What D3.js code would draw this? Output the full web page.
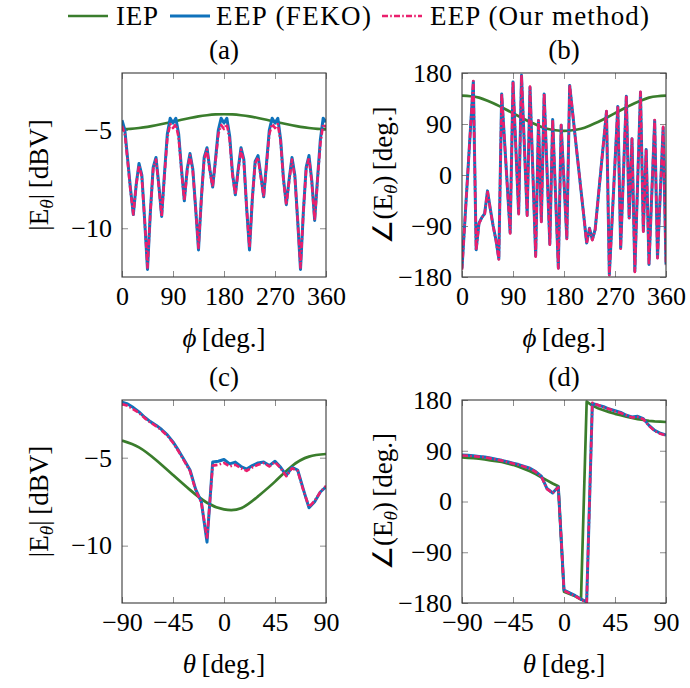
<!DOCTYPE html>
<html><head><meta charset="utf-8">
<script src="https://cdn.jsdelivr.net/npm/d3@7/dist/d3.min.js"></script>
<style>
body{margin:0;background:#fff}
text{font-family:"Liberation Serif","Times New Roman",serif;fill:#000}
</style>
</head><body>
<svg id="chart" width="690" height="688"></svg>
<script>
// ---------------- data ----------------
const phi5 = [0,5,10,15,20,25,30,35,40,45,50,55,60,65,70,75,80,85,90,95,100,105,110,115,120,125,130,135,140,145,150,155,160,165,170,175,180,185,190,195,200,205,210,215,220,225,230,235,240,245,250,255,260,265,270,275,280,285,290,295,300,305,310,315,320,325,330,335,340,345,350,355,360];
const phi15 = [0,15,30,45,60,75,90,105,120,135,150,165,180,195,210,225,240,255,270,285,300,315,330,345,360];
const theta5 = [-90,-85,-80,-75,-70,-65,-60,-55,-50,-45,-40,-35,-30,-25,-20,-15,-10,-5,0,5,10,15,20,25,30,35,40,45,50,55,60,65,70,75,80,85,90];
const theta15 = [-90,-75,-60,-45,-30,-15,0,15,30,45,60,75,90];

// (a) |E_theta| vs phi
const aIEP = [-4.95,-4.94,-4.90,-4.84,-4.76,-4.67,-4.58,-4.48,-4.39,-4.31,-4.25,-4.21,-4.20,-4.21,-4.25,-4.31,-4.39,-4.48,-4.58,-4.67,-4.76,-4.84,-4.90,-4.94,-4.95];
const aFEKO = [-4.5,-5.0,-6.5,-8.0,-9.3,-7.8,-6.7,-7.3,-9.6,-12.1,-9.2,-6.9,-6.4,-7.8,-9.4,-7.2,-5.2,-4.4,-4.65,-4.4,-5.2,-7.0,-8.6,-7.0,-6.2,-7.0,-9.0,-11.1,-8.5,-6.4,-5.9,-7.0,-7.9,-6.5,-5.0,-4.4,-4.65,-4.4,-5.3,-7.2,-8.3,-7.0,-5.9,-6.5,-9.0,-11.1,-8.5,-6.6,-6.3,-7.3,-8.4,-6.7,-5.0,-4.4,-4.65,-4.4,-5.5,-7.5,-8.8,-7.5,-6.4,-7.3,-9.6,-12.1,-9.2,-6.9,-6.3,-7.6,-9.6,-7.5,-5.5,-4.4,-4.6];
const aOur = [-4.8,-5.2,-6.6,-8.1,-9.3,-7.8,-6.8,-7.4,-9.6,-12.0,-9.2,-7.0,-6.5,-7.9,-9.4,-7.3,-5.4,-4.7,-4.9,-4.7,-5.4,-7.1,-8.6,-7.1,-6.3,-7.1,-9.0,-11.0,-8.5,-6.5,-6.0,-7.1,-7.9,-6.6,-5.2,-4.75,-4.95,-4.7,-5.5,-7.3,-8.3,-7.1,-6.0,-6.6,-9.0,-11.0,-8.5,-6.7,-6.4,-7.4,-8.4,-6.8,-5.2,-4.7,-4.9,-4.7,-5.6,-7.6,-8.8,-7.6,-6.5,-7.4,-9.6,-12.0,-9.2,-7.0,-6.4,-7.7,-9.6,-7.6,-5.7,-4.7,-4.85];

// (b) angle(E_theta) vs phi
const bIEP = [140,139,136.5,131,124.5,117,109,101,93.5,87,81.5,79,78,79,81.5,87,93.5,101,109,117,124.5,131,136.5,139,140];
const bFEKO = [-165,-82,0,83,165,-132,-85,-75,-68,-28,-60,-90,-115,-148,143,61,-20,-102,164,48,-68,176,53,-71,155,6,-143,96,-82,143,10,-122,98,-33,-164,88,-12,-112,158,112,65,19,-27,-73,-120,-94,-114,-96,-44,8,60,112,-176,-77,22,121,-129,5,139,-76,64,-170,-12,146,-99,45,-158,-31,96,-146,-30,84,-158];
const bOur = [-167,-83,0,83,166,-133,-86,-75,-69,-28,-61,-91,-116,-149,144,61,-21,-103,165,48,-69,177,53,-72,156,6,-144,96,-83,144,10,-123,98,-33,-165,88,-12,-113,159,112,65,19,-27,-73,-121,-95,-115,-97,-44,8,60,113,-177,-77,22,122,-130,5,140,-76,64,-171,-12,147,-100,45,-159,-31,97,-147,-30,85,-159];

// (c) |E_theta| vs theta
const cIEP = [-4.03,-4.41,-5.13,-5.98,-6.83,-7.56,-7.94,-7.88,-7.2,-6.36,-5.47,-4.94,-4.79];
const cFEKO = [-1.85,-1.95,-2.15,-2.4,-2.7,-2.95,-3.15,-3.4,-3.7,-4.1,-4.6,-5.15,-5.7,-6.8,-7.5,-9.8,-5.25,-5.2,-5.1,-5.35,-5.25,-5.5,-5.65,-5.45,-5.3,-5.25,-5.45,-5.2,-5.55,-6.0,-5.55,-5.7,-6.8,-7.85,-7.5,-6.95,-6.65];
const cOur = [-1.95,-2.05,-2.25,-2.45,-2.75,-3.0,-3.2,-3.45,-3.75,-4.15,-4.65,-5.2,-5.75,-6.85,-7.55,-9.6,-5.45,-5.4,-5.3,-5.5,-5.4,-5.6,-5.75,-5.55,-5.4,-5.3,-5.5,-5.25,-5.6,-6.05,-5.6,-5.75,-6.85,-7.8,-7.45,-6.95,-6.6];

// (d) angle(E_theta) vs theta
const dIEP = [78,77.5,77,76,74.5,73,71.5,70,67.5,65,61.5,57.5,53.5,48.5,43,37.5,32,27,-160,-164,-168,-174,177,170,165.5,162,158.5,155.5,153,150.5,148,146,144.5,143,142,141.5,141];
const dFEKO = [82.5,82,81,80,79,77,75,73,70.5,68,65.5,62,59,53,45,23,15,26,-157,-162,-167,-173,-178,174,171,168,164,161,158,153,150,151,147,135,126,121,118];
const dOur = [81.5,81,80.5,79.5,78.5,76.5,74.5,72.5,70,67.5,65,61.5,58.5,52.5,44.5,22,15,25,-158,-163,-168,-174,-179,175,171,167,164,160,157,153,149,150,146,134,125,120,117];

const xTicksPhi = [0,90,180,270,360];
const xTicksTheta = [-90,-45,0,45,90];
const yTicksMag = [-10,-5];
const yTicksPhase = [-180,-90,0,90,180];
const legendLabels = ["IEP","EEP (FEKO)","EEP (Our method)"];
const titles = ["(a)","(b)","(c)","(d)"];

// ---------------- style ----------------
const C_IEP = "#3a7d2c", C_FEKO = "#0f72bb", C_OUR = "#ea1f6d";
const TICKFS = 26, LABFS = 27;
const FONT = "'Liberation Serif','Times New Roman',serif";
const svg = d3.select("#chart");
const fmt = v => v < 0 ? "\u2212" + Math.abs(v) : String(v);

const panels = [
  {id:"a", box:[122,326,73,277], xd:[0,360], xt:xTicksPhi, yd:[-12.48,-2.1], yt:yTicksMag,
   series:[[phi15,aIEP,C_IEP,"iep"],[phi5,aFEKO,C_FEKO,"feko"],[phi5,aOur,C_OUR,"our"]], xlab:"phi", ylab:"mag", title:titles[0]},
  {id:"b", box:[462,666,73,277], xd:[0,360], xt:xTicksPhi, yd:[-180,180], yt:yTicksPhase,
   series:[[phi15,bIEP,C_IEP,"iep"],[phi5,bFEKO,C_FEKO,"feko"],[phi5,bOur,C_OUR,"our"]], xlab:"phi", ylab:"ang", title:titles[1]},
  {id:"c", box:[122,326,400,603], xd:[-90,90], xt:xTicksTheta, yd:[-13.26,-1.72], yt:yTicksMag,
   series:[[theta15,cIEP,C_IEP,"iep"],[theta5,cFEKO,C_FEKO,"feko"],[theta5,cOur,C_OUR,"our"]], xlab:"theta", ylab:"mag", title:titles[2]},
  {id:"d", box:[462,666,400,603], xd:[-90,90], xt:xTicksTheta, yd:[-180,180], yt:yTicksPhase,
   series:[[theta5,dIEP,C_IEP,"iep-lin"],[theta5,dFEKO,C_FEKO,"feko"],[theta5,dOur,C_OUR,"our"]], xlab:"theta", ylab:"ang", title:titles[3]}
];

function styleSeries(sel, kind, color){
  sel.attr("fill","none").attr("stroke",color).attr("stroke-linejoin","round");
  if (kind.startsWith("iep")) sel.attr("stroke-width",2.7);
  else if (kind==="feko") sel.attr("stroke-width",3.0);
  else sel.attr("stroke-width",2.6).attr("stroke-dasharray","6,2.2,1.6,2.2");
}

function ylabel(g, x, y, kind){
  const t = g.append("text").attr("transform",`translate(${x},${y}) rotate(-90)`)
    .attr("text-anchor","middle").attr("font-size",LABFS);
  if (kind==="mag"){
    t.append("tspan").text("|E");
    t.append("tspan").attr("font-style","italic").attr("font-size",LABFS*0.72).attr("dy",5).text("\u03b8");
    t.append("tspan").attr("dy",-5).text("|\u2009[dBV]");
  } else {
    t.append("tspan").text("\u2220(E");
    t.append("tspan").attr("font-style","italic").attr("font-size",LABFS*0.72).attr("dy",5).text("\u03b8");
    t.append("tspan").attr("dy",-5).text(")\u2009[deg.]");
  }
}
function xlabel(g, x, y, kind){
  const t = g.append("text").attr("x",x).attr("y",y).attr("text-anchor","middle").attr("font-size",LABFS);
  t.append("tspan").attr("font-style","italic").text(kind==="phi" ? "\u03d5" : "\u03b8");
  t.append("tspan").text("\u2009[deg.]");
}

panels.forEach(p => {
  const [x0,x1,y0,y1] = p.box;
  const xs = d3.scaleLinear().domain(p.xd).range([x0,x1]);
  const ys = d3.scaleLinear().domain(p.yd).range([y1,y0]);
  const g = svg.append("g");
  const cid = "clip-" + p.id;
  svg.append("clipPath").attr("id",cid).append("rect")
    .attr("x",x0).attr("y",y0).attr("width",x1-x0).attr("height",y1-y0);

  // axes (ticks inward, both sides)
  const mk = (axis, tx, ty, labels) => {
    const a = g.append("g").attr("transform",`translate(${tx},${ty})`).call(axis);
    a.attr("font-size",TICKFS).attr("font-family",FONT);
    a.select(".domain").remove();
    a.selectAll(".tick line").attr("stroke","#8c8c8c").attr("stroke-width",1);
    if (!labels) a.selectAll(".tick text").remove();
    return a;
  };
  mk(d3.axisBottom(xs).tickValues(p.xt).tickFormat(fmt).tickSizeInner(-6).tickSizeOuter(0).tickPadding(10), 0, y1, true);
  mk(d3.axisTop(xs).tickValues(p.xt).tickSizeInner(-6).tickSizeOuter(0), 0, y0, false);
  mk(d3.axisLeft(ys).tickValues(p.yt).tickFormat(fmt).tickSizeInner(-6).tickSizeOuter(0).tickPadding(10), x0, 0, true);
  mk(d3.axisRight(ys).tickValues(p.yt).tickSizeInner(-6).tickSizeOuter(0), x1, 0, false);

  // series
  const lines = g.append("g").attr("clip-path",`url(#${cid})`);
  p.series.forEach(([xv, yv, col, kind]) => {
    const curve = kind==="iep" ? d3.curveNatural : d3.curveLinear;
    const line = d3.line().x((d,i)=>xs(xv[i])).y(d=>ys(d)).curve(curve);
    lines.append("path").datum(yv).attr("d",line).call(styleSeries, kind, col);
  });

  // frame
  g.append("rect").attr("x",x0).attr("y",y0).attr("width",x1-x0).attr("height",y1-y0)
    .attr("fill","none").attr("stroke","#3a3a3a").attr("stroke-width",1.1);

  // titles and axis labels
  const cx = (x0+x1)/2, cy = (y0+y1)/2;
  g.append("text").attr("x",cx).attr("y",y0-14).attr("text-anchor","middle").attr("font-size",LABFS).text(p.title);
  xlabel(g, cx, y1+70, p.xlab);
  ylabel(g, x0 - (p.ylab==="mag" ? 74 : 70), cy, p.ylab);
});

// legend
const leg = svg.append("g");
const kinds = ["iep","feko","our"], cols = [C_IEP,C_FEKO,C_OUR];
const legLineX = [68,170,382], legTextX = [116,216,430], legTextW = [42,155,219];
const ly = 16;
legendLabels.forEach((lab,i) => {
  leg.append("line").attr("x1",legLineX[i]).attr("x2",legLineX[i]+40).attr("y1",ly).attr("y2",ly).call(styleSeries, kinds[i], cols[i]);
  leg.append("text").attr("x",legTextX[i]).attr("y",ly+9).attr("font-size",LABFS)
    .attr("textLength",legTextW[i]).attr("lengthAdjust","spacing").text(lab);
});
</script>
</body></html>
